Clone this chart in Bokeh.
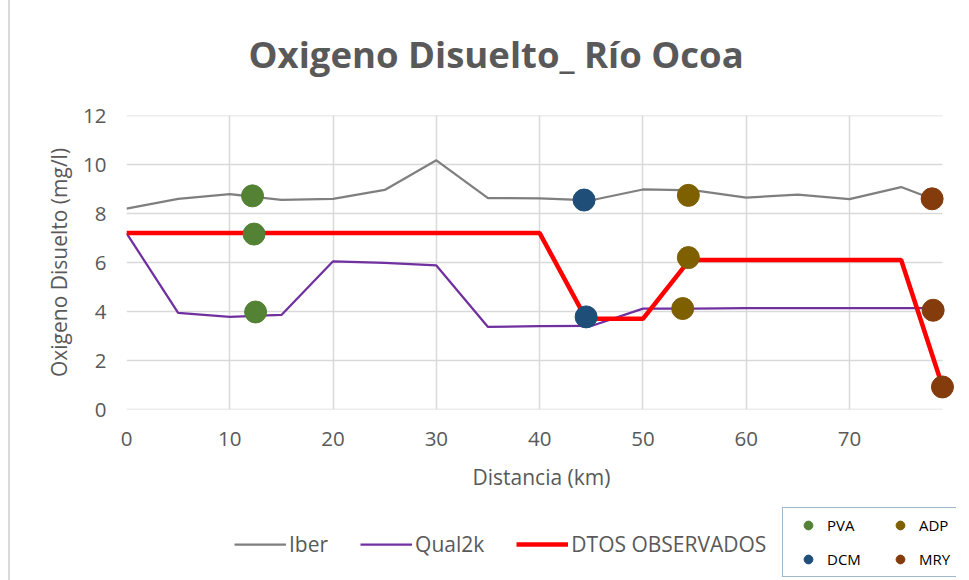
from bokeh.plotting import figure
from bokeh.layouts import column
from bokeh.models import Range1d, FixedTicker, Legend, LegendItem, Title
from bokeh.embed import file_html
from bokeh.resources import INLINE

# ---------------- data ----------------
dist_model = [0, 5, 10, 15, 20, 25, 30, 35, 40, 45, 50, 55, 60, 65, 70, 75, 78]
iber = [8.2, 8.6, 8.79, 8.56, 8.6, 8.96, 10.17, 8.63, 8.62, 8.54, 8.98, 8.94, 8.65, 8.77, 8.59, 9.08, 8.6]
qual2k = [7.2, 3.94, 3.78, 3.86, 6.05, 5.98, 5.88, 3.37, 3.4, 3.41, 4.12, 4.12, 4.14, 4.14, 4.14, 4.14, 4.14]

dist_obs = [0, 40, 44.5, 50, 54.5, 75, 79]
observados = [7.2, 7.2, 3.7, 3.7, 6.1, 6.1, 0.95]

pva_x = [12.2, 12.35, 12.5]
pva_y = [8.72, 7.16, 3.98]
dcm_x = [44.3, 44.5]
dcm_y = [8.55, 3.78]
adp_x = [54.4, 54.4, 53.85]
adp_y = [8.74, 6.2, 4.12]
mry_x = [78.0, 78.1, 79.0]
mry_y = [8.6, 4.05, 0.92]

x_ticks = [0, 10, 20, 30, 40, 50, 60, 70]
y_ticks = [0, 2, 4, 6, 8, 10, 12]
x_axis_end = 79

TITLE = "Oxigeno Disuelto_ Río Ocoa"
X_LABEL = "Distancia (km)"
Y_LABEL = "Oxigeno Disuelto (mg/l)"

FONT = "Open Sans"
TXT = "#595959"
GRID = "#d9d9d9"
C_IBER, C_Q2K, C_OBS = "#7f7f7f", "#7030a0", "#ff0000"
C_PVA, C_DCM, C_ADP, C_MRY = "#548235", "#1f4e79", "#7f6000", "#843c0c"

W = 969
H_MAIN = 495
H_LEG = 580 - H_MAIN

# ---------------- main figure ----------------
p = figure(width=W, height=H_MAIN, output_backend="svg", toolbar_location=None,
           x_range=Range1d(0, 80.36), y_range=Range1d(0, 12),
           min_border_left=126, min_border_right=13, min_border_top=115,
           min_border_bottom=H_MAIN - 409)
p.outline_line_color = None
p.background_fill_color = "white"
p.border_fill_color = None

# small spacer title next to the frame, then the real title above it
p.add_layout(Title(text=" ", text_font_size="8px", standoff=0), "above")
p.title.text = TITLE
p.title.align = "left"
p.title.offset = 122
p.title.text_font = FONT
p.title.text_font_size = "36.5px"
p.title.text_font_style = "bold"
p.title.text_color = TXT
p.title.standoff = 52

for ax in (p.xaxis[0], p.yaxis[0]):
    ax.axis_line_color = None
    ax.major_tick_line_color = None
    ax.minor_tick_line_color = None
    ax.major_label_text_font = FONT
    ax.major_label_text_font_size = "20.5px"
    ax.major_label_text_color = TXT
    ax.axis_label_text_font = FONT
    ax.axis_label_text_font_size = "21px"
    ax.axis_label_text_font_style = "normal"
    ax.axis_label_text_color = TXT

p.xaxis.ticker = FixedTicker(ticks=x_ticks)
p.yaxis.ticker = FixedTicker(ticks=y_ticks)
p.xaxis.major_label_standoff = 16
p.yaxis.major_label_standoff = 14
p.xaxis.axis_label = X_LABEL
p.yaxis.axis_label = Y_LABEL
p.xaxis.axis_label_standoff = 14
p.yaxis.axis_label_standoff = 7

p.xgrid.ticker = FixedTicker(ticks=x_ticks)
p.xgrid.grid_line_color = GRID
p.xgrid.grid_line_width = 1.5
p.ygrid.grid_line_color = None
p.segment(x0=[0] * len(y_ticks), x1=[x_axis_end] * len(y_ticks), y0=y_ticks, y1=y_ticks,
          line_color=GRID, line_width=1.5)

p.line(dist_model, iber, line_color=C_IBER, line_width=2.25)
p.line(dist_model, qual2k, line_color=C_Q2K, line_width=2.25)
p.line(dist_obs, observados, line_color=C_OBS, line_width=4.5)

p.scatter(pva_x, pva_y, size=22, color=C_PVA)
p.scatter(dcm_x, dcm_y, size=22, color=C_DCM)
p.scatter(adp_x, adp_y, size=22, color=C_ADP)
p.scatter(mry_x, mry_y, size=22, color=C_MRY)

# ---------------- legend strip ----------------
# ranges chosen so that the legend proxy glyphs fall outside the visible area
s = figure(width=W, height=H_LEG, output_backend="svg", toolbar_location=None,
           x_range=Range1d(1000, 2000), y_range=Range1d(1000, 2000),
           min_border=0, x_axis_type=None, y_axis_type=None)
s.outline_line_color = None
s.grid.visible = False
s.background_fill_color = None
s.border_fill_color = None

l_iber = s.line(dist_model, iber, line_color=C_IBER, line_width=2.25)
l_q2k = s.line(dist_model, qual2k, line_color=C_Q2K, line_width=2.25)
l_obs = s.line(dist_obs, observados, line_color=C_OBS, line_width=4.5)
m_pva = s.scatter(pva_x, pva_y, size=22, color=C_PVA)
m_dcm = s.scatter(dcm_x, dcm_y, size=22, color=C_DCM)
m_adp = s.scatter(adp_x, adp_y, size=22, color=C_ADP)
m_mry = s.scatter(mry_x, mry_y, size=22, color=C_MRY)

leg1 = Legend(items=[LegendItem(label="Iber", renderers=[l_iber]),
                     LegendItem(label="Qual2k", renderers=[l_q2k]),
                     LegendItem(label="DTOS OBSERVADOS", renderers=[l_obs])],
              orientation="horizontal", location=(108, 22),
              padding=0, margin=0, spacing=32, label_standoff=3,
              glyph_width=52, glyph_height=22, label_height=22,
              border_line_color=None, background_fill_alpha=0,
              label_text_font=FONT, label_text_font_size="21px", label_text_color=TXT)
s.add_layout(leg1)

leg2 = Legend(items=[LegendItem(label="PVA", renderers=[m_pva]),
                     LegendItem(label="DCM", renderers=[m_dcm]),
                     LegendItem(label="ADP", renderers=[m_adp]),
                     LegendItem(label="MRY", renderers=[m_mry])],
              orientation="vertical", ncols=2, location=(656, 3),
              padding=6, margin=0, spacing=12, label_standoff=-4,
              glyph_width=38, glyph_height=22, label_height=22, label_width=42,
              border_line_color="#41719c", border_line_width=1.5, background_fill_color="white",
              label_text_font=FONT, label_text_font_size="15px", label_text_color="black")
s.add_layout(leg2)

layout = column(p, s, spacing=0,
                styles={"background": "linear-gradient(to right, white 8px, #d9d9d9 8px, "
                                      "#d9d9d9 10px, white 10px)"})
open("out.html", "w").write(file_html(layout, INLINE))
